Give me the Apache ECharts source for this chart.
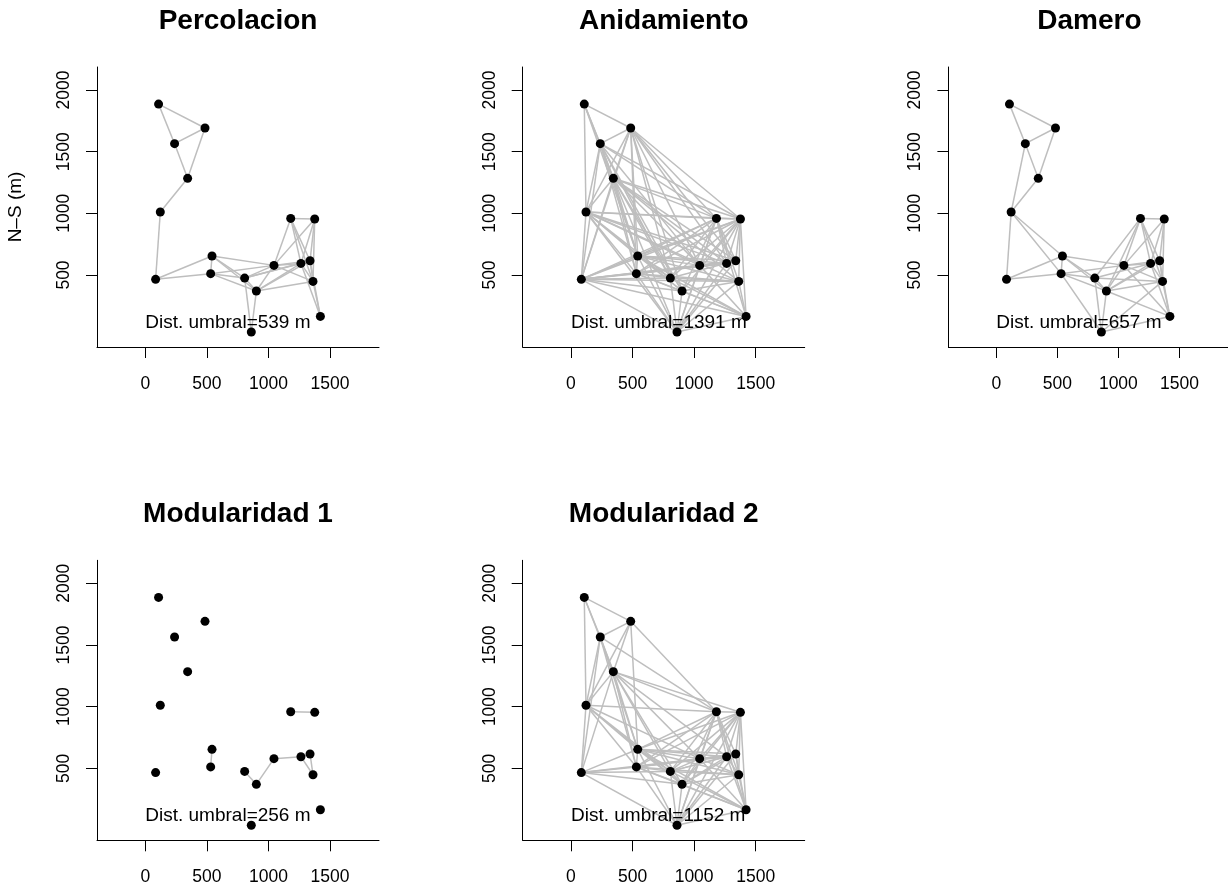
<!DOCTYPE html>
<html><head><meta charset="utf-8">
<script src="https://cdn.jsdelivr.net/npm/echarts@6/dist/echarts.min.js"></script>
<style>html,body{margin:0;padding:0;background:#fff}#c{width:1228px;height:887px}</style>
</head><body><div id="c"></div>
<script>
// Node coordinates (m)
const nodeX = [108,485,238,344,122,84,542,531,807,902,861,1045,1181,1376,1264,1338,1362,1422];
const nodeY = [1886,1692,1565,1284,1011,465,654,511,475,370,38,578,959,954,594,616,448,164];

const panelTitles = ['Percolacion','Anidamiento','Damero','Modularidad 1','Modularidad 2'];
const thresholds = ['539','1391','657','256','1152'];

const edgesPercolacion = [[0,1],[0,2],[1,2],[1,3],[2,3],[3,4],[4,5],[5,6],[5,7],[6,7],[6,8],[6,9],[6,11],[7,8],[7,9],[7,11],[8,9],[8,10],[9,10],[8,11],[9,11],[9,14],[9,15],[9,16],[8,14],[8,15],[11,12],[11,13],[11,14],[11,15],[11,16],[12,13],[12,14],[12,15],[12,16],[13,14],[13,15],[13,16],[14,15],[14,16],[14,17],[15,16],[15,17],[16,17]];

const edgesAnidamiento = [[0,1],[0,2],[0,3],[0,4],[0,6],
 [1,2],[1,3],[1,4],[1,5],[1,6],[1,7],[1,8],[1,9],[1,11],[1,12],[1,13],[1,14],[1,15],
 [2,3],[2,4],[2,5],[2,6],[2,7],[2,8],[2,9],[2,11],[2,12],[2,13],
 [3,4],[3,5],[3,6],[3,7],[3,8],[3,9],[3,10],[3,11],[3,12],[3,13],[3,14],[3,15],[3,16],
 [4,5],[4,6],[4,7],[4,8],[4,9],[4,10],[4,11],[4,12],[4,13],[4,14],[4,15],[4,16],
 [5,6],[5,7],[5,8],[5,9],[5,10],[5,11],[5,12],[5,13],[5,14],[5,15],[5,16],[5,17],
 [6,7],[6,8],[6,9],[6,10],[6,11],[6,12],[6,13],[6,14],[6,15],[6,16],[6,17],
 [7,8],[7,9],[7,10],[7,11],[7,12],[7,13],[7,14],[7,15],[7,16],[7,17],
 [8,10],[8,12],[8,13],[8,15],[8,16],[8,17],
 [9,10],[9,12],[9,13],[9,16],[9,17],
 [10,11],[10,12],[10,13],[10,14],[10,15],[10,16],[10,17],
 [11,12],[11,13],[11,17],
 [12,13],[12,14],[12,15],[12,16],[12,17],
 [13,14],[13,15],[13,16],[13,17],
 [16,17]];

const edgesDamero = [[0,1],[0,2],[1,2],[1,3],[2,3],[2,4],[3,4],[4,5],[4,6],[4,7],[5,6],[5,7],[6,7],[6,8],[6,9],[6,11],
 [7,8],[7,9],[7,10],[7,11],[8,9],[8,10],[8,12],[8,14],[8,16],[9,10],[9,11],[9,12],[9,14],[9,15],[9,16],[9,17],
 [10,16],[10,17],[11,12],[11,13],[11,14],[11,15],[11,16],[11,17],[12,13],[12,14],[12,15],[12,16],
 [13,14],[13,15],[13,16],[14,15],[14,16],[14,17],[15,16],[15,17],[16,17]];

const edgesModularidad1 = [[6,7],[8,9],[9,11],[11,14],[12,13],[14,15],[14,16],[15,16]];

const edgesModularidad2 = [[0,1],[0,2],[0,3],[0,4],
 [1,2],[1,3],[1,4],[1,6],[1,12],
 [2,3],[2,4],[2,5],[2,6],[2,7],[2,12],
 [3,4],[3,5],[3,6],[3,7],[3,8],[3,9],[3,11],[3,12],[3,13],[3,14],
 [4,5],[4,6],[4,7],[4,8],[4,9],[4,11],[4,12],
 [5,6],[5,7],[5,8],[5,9],[5,10],[5,11],
 [6,7],[6,8],[6,9],[6,10],[6,11],[6,12],[6,13],[6,14],[6,15],[6,16],[6,17],
 [7,8],[7,9],[7,10],[7,11],[7,12],[7,13],[7,14],[7,15],[7,16],[7,17],
 [8,9],[8,10],[8,11],[8,12],[8,13],[8,14],[8,15],[8,16],[8,17],
 [9,10],[9,11],[9,12],[9,13],[9,14],[9,15],[9,16],[9,17],
 [10,11],[10,12],[10,13],[10,14],[10,15],[10,16],[10,17],
 [11,12],[11,13],[11,14],[11,15],[11,16],[11,17],
 [12,13],[12,14],[12,15],[12,16],[12,17],
 [13,14],[13,15],[13,16],[13,17],
 [14,15],[14,16],[14,17],[15,16],[15,17],[16,17]];

const panelEdges = [edgesPercolacion, edgesAnidamiento, edgesDamero, edgesModularidad1, edgesModularidad2];

const xTicks = [0,500,1000,1500];
const yTicks = [500,1000,1500,2000];
const labelPos = [0, 115];

const FONT = '"Liberation Sans", Arial, Helvetica, sans-serif';
const chart = echarts.init(document.getElementById('c'));

const grids = [], xAxes = [], yAxes = [], series = [], graphics = [];
const colStep = 425.7, rowStep = 493.3;
for (let i = 0; i < 5; i++) {
  const col = i % 3, row = Math.floor(i / 3);
  const left = 97 + col * colStep, top = 67 + row * rowStep;
  grids.push({left: left, top: top, width: 282, height: 280, containLabel: false});
  xAxes.push({
    type: 'value', gridIndex: i, min: -392, max: 1898,
    axisLine: {show: true, onZero: false, lineStyle: {color: '#000', width: 1}},
    axisTick: {show: true, length: 11, lineStyle: {color: '#000', width: 1}, customValues: xTicks},
    axisLabel: {show: true, customValues: xTicks, color: '#000', fontSize: 17.5, fontFamily: FONT, margin: 28,
      formatter: v => String(v)},
    splitLine: {show: false}
  });
  yAxes.push({
    type: 'value', gridIndex: i, min: -84, max: 2187,
    axisLine: {show: true, onZero: false, lineStyle: {color: '#000', width: 1}},
    axisTick: {show: true, length: 11, lineStyle: {color: '#000', width: 1}, customValues: yTicks},
    axisLabel: {show: true, customValues: yTicks, rotate: 90, color: '#000', fontSize: 17.5, fontFamily: FONT, margin: 24,
      formatter: v => String(v)},
    splitLine: {show: false}
  });
  const edges = panelEdges[i];
  series.push({
    type: 'lines', coordinateSystem: 'cartesian2d', xAxisIndex: i, yAxisIndex: i,
    silent: true, animation: false, z: 1,
    lineStyle: {color: '#BEBEBE', width: 1.5, opacity: 1, curveness: 0},
    data: edges.map(e => ({coords: [[nodeX[e[0]], nodeY[e[0]]], [nodeX[e[1]], nodeY[e[1]]]]}))
  });
  series.push({
    type: 'scatter', xAxisIndex: i, yAxisIndex: i, animation: false, z: 3,
    symbol: 'circle', symbolSize: 9, itemStyle: {color: '#000', opacity: 1},
    data: nodeX.map((x, k) => [x, nodeY[k]])
  });
  series.push({
    type: 'scatter', xAxisIndex: i, yAxisIndex: i, animation: false, z: 2,
    symbolSize: 0, silent: true, itemStyle: {opacity: 1},
    label: {show: true, position: 'right', distance: 0, formatter: 'Dist. umbral=' + thresholds[i] + ' m',
      color: '#000', opacity: 1, fontSize: 19, fontFamily: FONT},
    data: [labelPos]
  });
  graphics.push({
    type: 'text', x: left + 141, y: 21 + row * rowStep,
    style: {text: panelTitles[i], font: 'bold 28px ' + FONT, fill: '#000', textAlign: 'center', textVerticalAlign: 'middle'}
  });
}
graphics.push({
  type: 'text', x: 16, y: 207, rotation: Math.PI / 2,
  style: {text: 'N\u2013S (m)', font: '19px ' + FONT, fill: '#000', textAlign: 'center', textVerticalAlign: 'middle'}
});

chart.setOption({
  animation: false,
  backgroundColor: '#fff',
  grid: grids, xAxis: xAxes, yAxis: yAxes, series: series, graphic: graphics
});
</script></body></html>
